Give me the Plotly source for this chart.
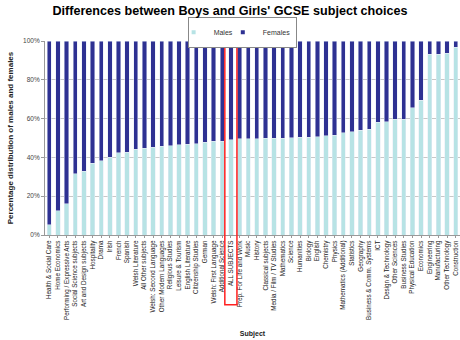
import plotly.graph_objects as go

subjects = [
    "Health & Social Care", "Home Economics", "Performing / Expressive Arts",
    "Social Science subjects", "Art and Design subjects", "Hospitality", "Drama",
    "Irish", "French", "Spanish", "Welsh Literature", "All Other subjects",
    "Welsh: Second Language", "Other Modern Languages", "Religious Studies",
    "Leisure & Tourism", "English Literature", "Citizenship Studies", "German",
    "Welsh: First Language", "Additional Science", "ALL SUBJECTS",
    "Prep. For Life and Work", "Music", "History", "Classical subjects",
    "Media / Film / TV Studies", "Mathematics", "Science", "Humanities",
    "Biology", "English", "Chemistry", "Physics", "Mathematics (Additional)",
    "Statistics", "Geography", "Business & Comm. Systems", "ICT",
    "Design & Technology", "Other Sciences", "Business Studies",
    "Physical Education", "Economics", "Engineering", "Manufacturing",
    "Other Technology", "Construction",
]
males = [
    5.2, 12.6, 16.1, 31.7, 32.9, 36.9, 38.2, 40.1, 42.4, 42.7, 44.3, 44.8,
    45.2, 45.7, 46.0, 46.5, 46.9, 47.1, 47.9, 48.3, 48.4, 49.0, 49.5, 49.5,
    49.7, 49.8, 49.8, 50.0, 50.2, 50.3, 50.5, 50.7, 51.2, 51.4, 52.6, 53.1,
    54.0, 54.5, 58.1, 58.5, 59.7, 59.7, 65.7, 69.4, 93.1, 93.1, 93.6, 96.9,
]
females = [round(100 - m, 1) for m in males]
highlight = "ALL SUBJECTS"
male_color = "#B7E3E5"
female_color = "#2E3192"

fig = go.Figure()
fig.add_trace(go.Bar(x=subjects, y=males, name="Males", marker_color=male_color,
                     showlegend=False, legendgroup="m"))
fig.add_trace(go.Bar(x=subjects, y=females, name="Females", marker_color=female_color,
                     showlegend=False, legendgroup="f"))
# small square legend keys
for nm, col, grp in [("Males", male_color, "m"), ("Females", female_color, "f")]:
    fig.add_trace(go.Scatter(x=[subjects[0]], y=[None], mode="markers", name=nm,
                             legendgroup=grp,
                             marker=dict(symbol="square", size=4, color=col)))

hi = subjects.index(highlight)
fig.add_shape(type="rect", xref="x", yref="paper",
              x0=hi - 0.7, x1=hi + 0.7, y0=-0.36, y1=1.015,
              line=dict(color="#FF2020", width=1.5), fillcolor="rgba(0,0,0,0)")

fig.update_layout(
    width=460, height=340,
    barmode="stack", bargap=0.5,
    margin=dict(l=45, r=0, t=41, b=105),
    paper_bgcolor="white", plot_bgcolor="white",
    font=dict(family="Liberation Sans, Arial, sans-serif", color="#222"),
    title=dict(text="<b>Differences between Boys and Girls' GCSE subject choices</b>",
               x=0.5, xref="container", xanchor="center", y=0.97, yanchor="middle",
               font=dict(size=12.6, color="black")),
    legend=dict(orientation="h", x=0.475, xanchor="center", y=1.125, yanchor="top",
                bordercolor="#888", borderwidth=1, font=dict(size=7, color="#333"),
                itemwidth=30, itemsizing="trace", traceorder="normal",
                tracegroupgap=0, indentation=-15, bgcolor="rgba(255,255,255,1)"),
    showlegend=True,
)
fig.update_xaxes(
    type="category", tickangle=-90, tickfont=dict(size=6.3, color="#222"),
    range=[-0.5, len(subjects) - 0.5], automargin=False,
    showline=True, linecolor="#999", ticks="outside", ticklen=2, tickcolor="#999",
    title=dict(text="<b>Subject</b>", font=dict(size=7, color="#222"), standoff=12),
)
fig.update_yaxes(
    range=[0, 100], dtick=20, ticksuffix="%", tickfont=dict(size=6.5, color="#444"),
    showgrid=True, gridcolor="#C8C8C8", gridwidth=1, automargin=False,
    showline=True, linecolor="#999", ticks="outside", ticklen=3, tickcolor="#999",
    title=dict(text="<b>Percentage distribution of males and females</b>",
               font=dict(size=8, color="#222"), standoff=8),
)
fig.write_html("out.html")
